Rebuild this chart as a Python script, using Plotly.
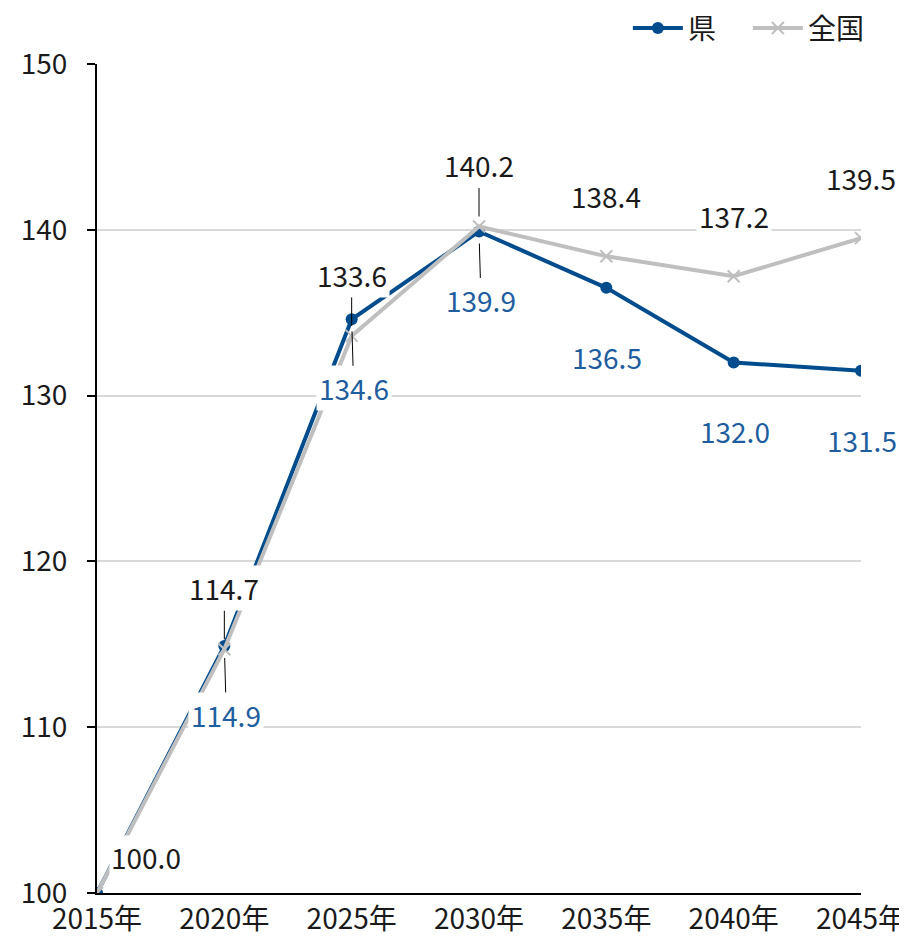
import plotly.graph_objects as go

years = ["2015年", "2020年", "2025年", "2030年", "2035年", "2040年", "2045年"]
ken = [100.0, 114.9, 134.6, 139.9, 136.5, 132.0, 131.5]
zenkoku = [100.0, 114.7, 133.6, 140.2, 138.4, 137.2, 139.5]

FONT = "Noto Sans CJK JP"
FS = 28
BLUE = "#004C8C"
BLUE_TXT = "#1F5E9E"
GRAY = "#BFBFBF"
TXT = "#1a1a1a"

fig = go.Figure()

fig.add_trace(go.Scatter(
    x=years, y=ken, name="県",
    mode="lines+markers",
    line=dict(color=BLUE, width=4),
    marker=dict(symbol="circle", size=12, color=BLUE),
))
fig.add_trace(go.Scatter(
    x=years, y=zenkoku, name="全国",
    mode="lines+markers",
    line=dict(color=GRAY, width=4),
    marker=dict(symbol="x-thin", size=12, color=GRAY, line=dict(color=GRAY, width=2)),
))

# which points get a leader line
leader = [False, True, True, True, False, False, False]

annotations = []
for i, (yr, v) in enumerate(zip(years, zenkoku)):
    if i == 0:
        annotations.append(dict(x=yr, y=v, text=f"{v:.1f}", showarrow=False,
                                xshift=49, yshift=36,
                                font=dict(family=FONT, size=FS, color=TXT),
                                bgcolor="white"))
        continue
    if leader[i]:
        annotations.append(dict(x=yr, y=v, text=f"{v:.1f}", showarrow=True,
                                arrowhead=0, arrowwidth=1, arrowcolor="#000000",
                                ax=0, ay=-61, standoff=10, borderpad=2,
                                font=dict(family=FONT, size=FS, color=TXT),
                                bgcolor="white"))
    else:
        annotations.append(dict(x=yr, y=v, text=f"{v:.1f}", showarrow=False,
                                yshift=60, borderpad=2,
                                font=dict(family=FONT, size=FS, color=TXT),
                                bgcolor="white"))

for i, (yr, v) in enumerate(zip(years, ken)):
    if i == 0:
        continue
    if leader[i]:
        annotations.append(dict(x=yr, y=v, text=f"{v:.1f}", showarrow=True,
                                arrowhead=0, arrowwidth=1, arrowcolor="#000000",
                                ax=2, ay=69, standoff=12, borderpad=2,
                                font=dict(family=FONT, size=FS, color=BLUE_TXT),
                                bgcolor="white"))
    else:
        annotations.append(dict(x=yr, y=v, text=f"{v:.1f}", showarrow=False,
                                yshift=-69, xshift=1, borderpad=2,
                                font=dict(family=FONT, size=FS, color=BLUE_TXT),
                                bgcolor="white"))

# page body has an 8px margin, so the figure is a bit smaller than the window
fig.update_layout(
    width=899, height=928,
    paper_bgcolor="white", plot_bgcolor="white",
    margin=dict(l=89, r=46, t=56, b=43, autoexpand=False),
    font=dict(family=FONT, size=FS, color=TXT),
    showlegend=True,
    legend=dict(orientation="h", x=1.009, xanchor="right", y=1.043, yanchor="middle",
                font=dict(family=FONT, size=FS, color=TXT),
                itemwidth=50, entrywidth=55, traceorder="normal",
                bgcolor="rgba(0,0,0,0)"),
    annotations=annotations,
)
fig.update_xaxes(
    type="category", range=[0, 6], automargin=False,
    showline=True, linecolor="#000000", linewidth=2,
    showgrid=False, ticks="", tickfont=dict(family=FONT, size=FS, color=TXT),
    fixedrange=True,
)
fig.update_yaxes(
    range=[100, 150], dtick=10, automargin=False,
    showline=True, linecolor="#000000", linewidth=2,
    ticks="outside", ticklen=8, tickwidth=2, tickcolor="#000000",
    ticklabelstandoff=14,
    showgrid=True, gridcolor="#D9D9D9", gridwidth=2,
    zeroline=False,
    tickfont=dict(family=FONT, size=FS, color=TXT),
    fixedrange=True,
)

fig.write_html("out.html")
